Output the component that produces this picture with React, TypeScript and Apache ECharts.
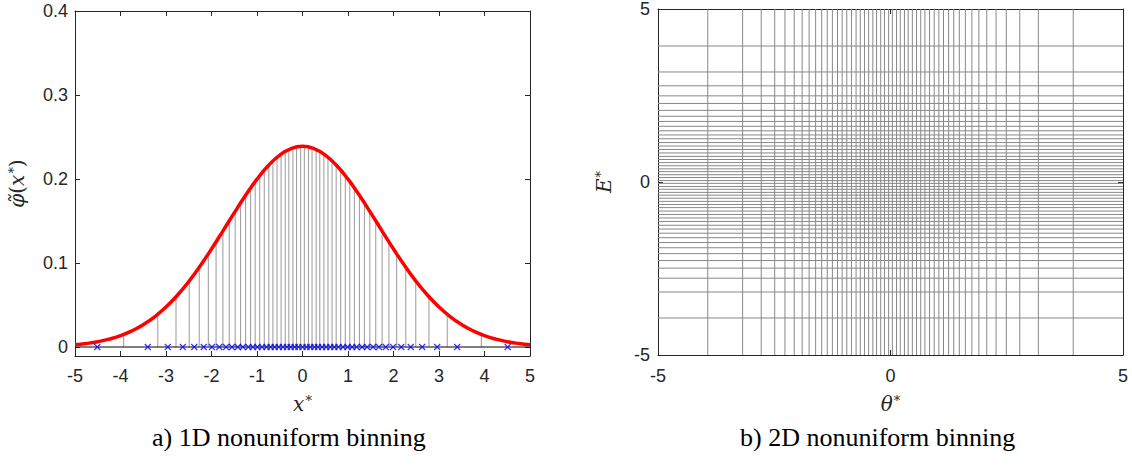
import React, { useEffect, useRef } from "react";
import * as echarts from "echarts";

// ---- data ----
const curveX = [-5, -4.75, -4.5, -4.25, -4, -3.75, -3.5, -3.25, -3, -2.75, -2.5, -2.25, -2, -1.75, -1.5, -1.25, -1, -0.75, -0.5, -0.25, 0,
  0.25, 0.5, 0.75, 1, 1.25, 1.5, 1.75, 2, 2.25, 2.5, 2.75, 3, 3.25, 3.5, 3.75, 4, 4.25, 4.5, 4.75, 5];
const curveY = [0.0027, 0.0042, 0.0063, 0.0094, 0.0136, 0.0192, 0.0266, 0.036, 0.0476, 0.0616, 0.0779, 0.0964, 0.1167, 0.138, 0.1597, 0.1806, 0.1998, 0.2161, 0.2285, 0.2363, 0.239,
  0.2363, 0.2285, 0.2161, 0.1998, 0.1806, 0.1597, 0.138, 0.1167, 0.0964, 0.0779, 0.0616, 0.0476, 0.036, 0.0266, 0.0192, 0.0136, 0.0094, 0.0063, 0.0042, 0.0027];

const binEdges = [-3.93, -3.18, -2.78, -2.49, -2.27, -2.07, -1.9, -1.75, -1.61, -1.48, -1.36, -1.25, -1.14, -1.04, -0.94, -0.84, -0.74, -0.65, -0.56, -0.47, -0.38, -0.3, -0.21, -0.13, -0.04,
  0.04, 0.13, 0.21, 0.3, 0.38, 0.47, 0.56, 0.65, 0.74, 0.84, 0.94, 1.04, 1.14, 1.25, 1.36, 1.48, 1.61, 1.75, 1.9, 2.07, 2.27, 2.49, 2.78, 3.18, 3.93];
const stemHeights = [0.015, 0.039, 0.0598, 0.0787, 0.0949, 0.1108, 0.1251, 0.138, 0.1502, 0.1614, 0.1716, 0.1806, 0.1893, 0.1969, 0.204, 0.2106, 0.2167, 0.2216, 0.2259, 0.2297, 0.2329, 0.2352, 0.2371, 0.2383, 0.2389,
  0.2389, 0.2383, 0.2371, 0.2352, 0.2329, 0.2297, 0.2259, 0.2216, 0.2167, 0.2106, 0.204, 0.1969, 0.1893, 0.1806, 0.1716, 0.1614, 0.1502, 0.138, 0.1251, 0.1108, 0.0949, 0.0787, 0.0598, 0.039, 0.015];

const binCenters = [-4.51, -3.4, -2.96, -2.63, -2.38, -2.17, -1.99, -1.83, -1.68, -1.55, -1.42, -1.31, -1.19, -1.09, -0.99, -0.89, -0.79, -0.7, -0.61, -0.52, -0.43, -0.34, -0.26, -0.17, -0.09, 0,
  0.09, 0.17, 0.26, 0.34, 0.43, 0.52, 0.61, 0.7, 0.79, 0.89, 0.99, 1.09, 1.19, 1.31, 1.42, 1.55, 1.68, 1.83, 1.99, 2.17, 2.38, 2.63, 2.96, 3.4, 4.51];

const thetaEdges = binEdges;
const energyEdges = binEdges;

const xTicks1D = [-5, -4, -3, -2, -1, 0, 1, 2, 3, 4, 5];
const yTicks1D = [0, 0.1, 0.2, 0.3, 0.4];
const ticks2D = [-5, 0, 5];

const captions = ["a) 1D nonuniform binning", "b) 2D nonuniform binning"];

// ---- styles ----
const AX = "#262626";
const SANS = "Liberation Sans, Arial, sans-serif";
const SERIF = "DejaVu Serif, serif";
const CAPTION_FONT = "Liberation Serif, serif";

const mathRich = {
  i: { fontFamily: SERIF, fontStyle: "italic", fontSize: 20, color: AX },
  n: { fontFamily: SERIF, fontSize: 20, color: AX },
  s: { fontFamily: SERIF, fontSize: 13, color: AX, verticalAlign: "top", padding: [0, 0, 6, 1] },
};

function boxAxis(type: "x" | "y", grid: number, pos: string, min: number, max: number, labels: boolean, extra: any = {}) {
  return {
    type: "value",
    gridIndex: grid,
    position: pos,
    min,
    max,
    axisLine: { show: true, onZero: false, lineStyle: { color: AX, width: 1 } },
    axisTick: { show: true, inside: true, length: 5, lineStyle: { color: AX } },
    axisLabel: { show: labels, color: AX, fontFamily: SANS, fontSize: 18, margin: type === "x" ? 11 : 7 },
    splitLine: { show: false },
    ...extra,
  };
}

export default function App() {
  const ref = useRef<HTMLDivElement>(null);
  useEffect(() => {
    if (!ref.current) return;
    const chart = echarts.init(ref.current, null, { renderer: "svg" });

    const yMin1D = -0.0107;
    const lblY = (v: number) => (yTicks1D.some((t) => Math.abs(t - v) < 1e-6) ? (v === 0 ? "0" : String(v)) : "");
    const lblX = (v: number) => (xTicks1D.some((t) => Math.abs(t - v) < 1e-6) ? String(v) : "");
    const lbl2 = (v: number) => (ticks2D.some((t) => Math.abs(t - v) < 1e-6) ? String(v) : "");

    const option: any = {
      animation: false,
      grid: [
        { left: 75, top: 11, width: 455, height: 345, containLabel: false },
        { left: 658, top: 4, width: 465, height: 351, containLabel: false },
      ],
      xAxis: [
        boxAxis("x", 0, "bottom", -5, 5, true, {
          interval: 1,
          axisLabel: { show: true, color: AX, fontFamily: SANS, fontSize: 18, margin: 11, formatter: lblX },
          name: "{i|x}{s|*}",
          nameLocation: "middle",
          nameGap: 38,
          nameTextStyle: { rich: mathRich },
        }),
        boxAxis("x", 0, "top", -5, 5, false, { interval: 1 }),
        boxAxis("x", 1, "bottom", -5, 5, true, {
          interval: 5,
          axisLabel: { show: true, color: AX, fontFamily: SANS, fontSize: 18, margin: 12, formatter: lbl2 },
          name: "{i|\u03B8}{s|*}",
          nameLocation: "middle",
          nameGap: 39,
          nameTextStyle: { rich: mathRich },
        }),
        boxAxis("x", 1, "top", -5, 5, false, { interval: 5 }),
      ],
      yAxis: [
        boxAxis("y", 0, "left", yMin1D, 0.4, true, {
          splitNumber: 4,
          axisLabel: { show: true, color: AX, fontFamily: SANS, fontSize: 18, margin: 7, formatter: lblY },
          name: "{i|\u03C6\u0303}{n|(}{i|x}{s|*}{n|)}",
          nameLocation: "middle",
          nameGap: 48,
          nameRotate: 90,
          nameTextStyle: { rich: mathRich },
        }),
        boxAxis("y", 0, "right", yMin1D, 0.4, false, { splitNumber: 4 }),
        boxAxis("y", 1, "left", -5, 5, true, {
          interval: 5,
          axisLabel: { show: true, color: AX, fontFamily: SANS, fontSize: 18, margin: 8, formatter: lbl2 },
          name: "{i|E}{s|*}",
          nameLocation: "middle",
          nameGap: 44,
          nameRotate: 90,
          nameTextStyle: { rich: mathRich },
        }),
        boxAxis("y", 1, "right", -5, 5, false, { interval: 5 }),
      ],
      series: [
        {
          type: "custom",
          xAxisIndex: 0,
          yAxisIndex: 0,
          data: binEdges.map((x, i) => [x, stemHeights[i]]),
          encode: { x: 0, y: 1 },
          renderItem: (params: any, api: any) => {
            const p0 = api.coord([api.value(0), 0]);
            const p1 = api.coord([api.value(0), api.value(1)]);
            return { type: "line", shape: { x1: p0[0], y1: p0[1], x2: p1[0], y2: p1[1] }, style: { stroke: "#999999", lineWidth: 1 } };
          },
          z: 1,
        },
        {
          type: "line",
          xAxisIndex: 0,
          yAxisIndex: 0,
          data: [[-5, 0], [5, 0]],
          symbol: "none",
          lineStyle: { color: "#000000", width: 1.2 },
          z: 2,
        },
        {
          type: "scatter",
          xAxisIndex: 0,
          yAxisIndex: 0,
          data: binCenters.map((x) => [x, 0]),
          symbol: "path://M0,0L10,10M10,0L0,10",
          symbolSize: 6,
          itemStyle: { color: "none", borderColor: "#0000ff", borderWidth: 1.2 },
          z: 3,
        },
        {
          type: "line",
          xAxisIndex: 0,
          yAxisIndex: 0,
          data: curveX.map((x, i) => [x, curveY[i]]),
          smooth: true,
          symbol: "none",
          lineStyle: { color: "#ff0000", width: 3.5 },
          z: 4,
        },
        {
          type: "custom",
          xAxisIndex: 2,
          yAxisIndex: 2,
          data: thetaEdges.map((x) => [x, 0]),
          encode: { x: 0, y: 1 },
          renderItem: (params: any, api: any) => {
            const p0 = api.coord([api.value(0), -5]);
            const p1 = api.coord([api.value(0), 5]);
            return { type: "line", shape: { x1: p0[0], y1: p0[1], x2: p1[0], y2: p1[1] }, style: { stroke: "#888888", lineWidth: 1 } };
          },
        },
        {
          type: "custom",
          xAxisIndex: 2,
          yAxisIndex: 2,
          data: energyEdges.map((y) => [0, y]),
          encode: { x: 0, y: 1 },
          renderItem: (params: any, api: any) => {
            const p0 = api.coord([-5, api.value(1)]);
            const p1 = api.coord([5, api.value(1)]);
            return { type: "line", shape: { x1: p0[0], y1: p0[1], x2: p1[0], y2: p1[1] }, style: { stroke: "#888888", lineWidth: 1 } };
          },
        },
      ],
      graphic: [
        { type: "text", left: 302 - 150, top: 424, style: { text: captions[0], width: 300, align: "center", font: `26px ${CAPTION_FONT}`, fill: "#000" } },
        { type: "text", left: 890 - 150, top: 424, style: { text: captions[1], width: 300, align: "center", font: `26px ${CAPTION_FONT}`, fill: "#000" } },
      ],
    };
    chart.setOption(option);
    return () => chart.dispose();
  }, []);
  return <div ref={ref} style={{ position: "fixed", left: 0, top: 0, width: 1132, height: 465, background: "#fff" }} />;
}
